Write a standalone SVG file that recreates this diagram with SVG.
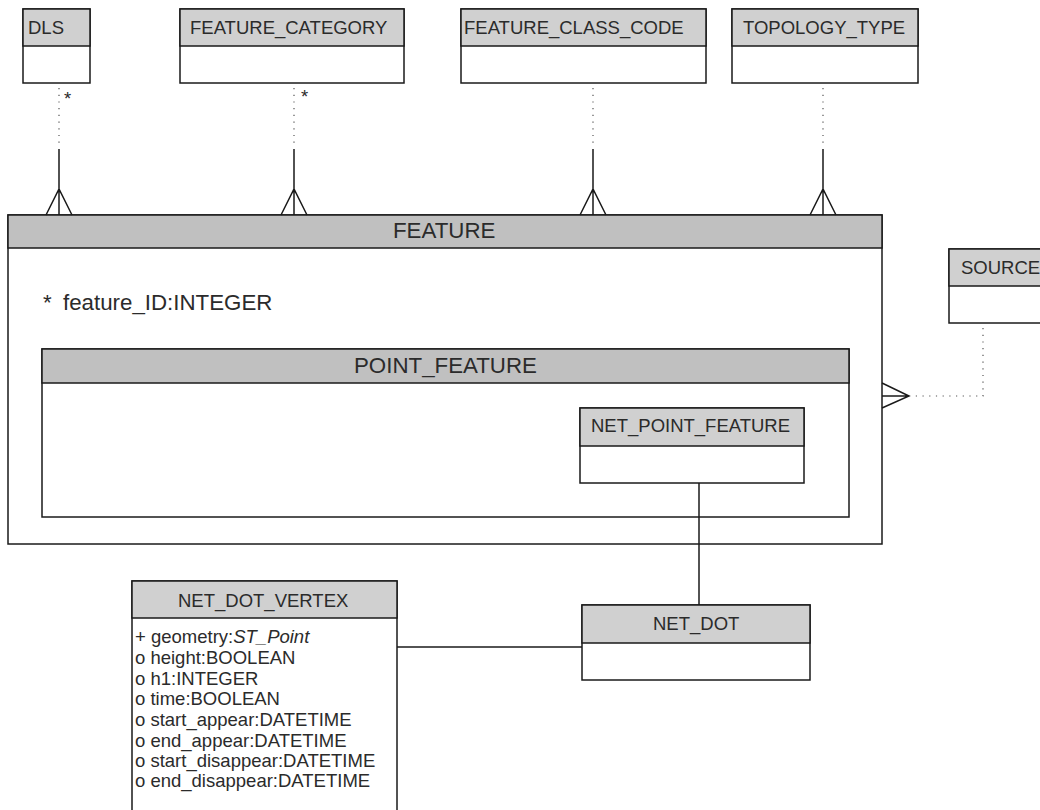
<svg xmlns="http://www.w3.org/2000/svg" width="1040" height="810" viewBox="0 0 1040 810">
<style>
.box{fill:#fff;stroke:#1a1a1a;stroke-width:1.5}
.hd{fill:#d0d0d0;stroke:#1a1a1a;stroke-width:1.5}
.hd2{fill:#c0c0c0;stroke:#1a1a1a;stroke-width:1.5}
.t{font-family:"Liberation Sans",Arial,sans-serif;font-size:18.5px;fill:#2b2b2b}
.tb{font-family:"Liberation Sans",Arial,sans-serif;font-size:22.3px;fill:#2b2b2b}
.dot{fill:none;stroke:#555;stroke-width:1.2;stroke-dasharray:1.2 5.5}
.sol{fill:none;stroke:#1a1a1a;stroke-width:1.5}
</style>
<rect width="1040" height="810" fill="#fff"/>
<g id="FEATURE">
<rect class="box" x="8" y="215" width="874" height="329"/>
<rect class="hd2" x="8" y="215" width="874" height="33"/>
<text class="tb" x="393" y="238">FEATURE</text>
<text class="tb" y="310"><tspan x="43">*</tspan><tspan x="63">feature_ID:INTEGER</tspan></text>
</g>
<g id="POINT_FEATURE">
<rect class="box" x="42" y="349" width="807" height="168"/>
<rect class="hd2" x="42" y="349" width="807" height="34"/>
<text class="tb" x="354" y="373">POINT_FEATURE</text>
</g>
<g id="NET_POINT_FEATURE">
<rect class="box" x="580" y="408" width="224" height="75"/>
<rect class="hd" x="580" y="408" width="224" height="38"/>
<text class="t" x="591" y="432">NET_POINT_FEATURE</text>
</g>
<g id="DLS">
<rect class="box" x="23" y="9" width="67" height="74"/>
<rect class="hd" x="23" y="9" width="67" height="37"/>
<text class="t" x="28" y="34">DLS</text>
</g>
<g id="FEATURE_CATEGORY">
<rect class="box" x="180" y="9" width="224" height="74"/>
<rect class="hd" x="180" y="9" width="224" height="37"/>
<text class="t" x="190" y="34">FEATURE_CATEGORY</text>
</g>
<g id="FEATURE_CLASS_CODE">
<rect class="box" x="461" y="9" width="245" height="74"/>
<rect class="hd" x="461" y="9" width="245" height="37"/>
<text class="t" x="464" y="34">FEATURE_CLASS_CODE</text>
</g>
<g id="TOPOLOGY_TYPE">
<rect class="box" x="732" y="9" width="186" height="74"/>
<rect class="hd" x="732" y="9" width="186" height="37"/>
<text class="t" x="743" y="34">TOPOLOGY_TYPE</text>
</g>
<g id="SOURCE">
<rect class="box" x="949" y="249" width="103" height="74"/>
<rect class="hd" x="949" y="249" width="103" height="37"/>
<text class="t" x="961" y="274">SOURCE</text>
</g>
<g id="NET_DOT">
<rect class="box" x="582" y="605" width="228" height="75"/>
<rect class="hd" x="582" y="605" width="228" height="38"/>
<text class="t" x="653" y="630">NET_DOT</text>
</g>
<g id="NET_DOT_VERTEX">
<rect class="box" x="132" y="581" width="265" height="240"/>
<rect class="hd" x="132" y="581" width="265" height="37"/>
<text class="t" x="178" y="607">NET_DOT_VERTEX</text>
<text class="t" x="135" y="643">+ geometry:<tspan font-style="italic">ST_Point</tspan></text>
<text class="t" x="135" y="664">o height:BOOLEAN</text>
<text class="t" x="135" y="685">o h1:INTEGER</text>
<text class="t" x="135" y="705">o time:BOOLEAN</text>
<text class="t" x="135" y="726">o start_appear:DATETIME</text>
<text class="t" x="135" y="747">o end_appear:DATETIME</text>
<text class="t" x="135" y="767">o start_disappear:DATETIME</text>
<text class="t" x="135" y="787">o end_disappear:DATETIME</text>
</g>
<g id="connectors">
<path class="dot" d="M59 88V146"/>
<path class="sol" d="M59 149V215M46 215L59 189L72 215"/>
<text class="t" x="64" y="105">*</text>
<path class="dot" d="M294 88V146"/>
<path class="sol" d="M294 149V215M281 215L294 189L307 215"/>
<text class="t" x="301" y="103">*</text>
<path class="dot" d="M593 88V146"/>
<path class="sol" d="M593 149V215M580 215L593 189L606 215"/>
<path class="dot" d="M823 88V146"/>
<path class="sol" d="M823 149V215M810 215L823 189L836 215"/>
<path class="dot" d="M983 328V396H912"/>
<path class="sol" d="M882 396H909M882 383L909 396L882 408"/>
<path class="sol" d="M699 483V605"/>
<path class="sol" d="M397 647H582"/>
</g>
</svg>
